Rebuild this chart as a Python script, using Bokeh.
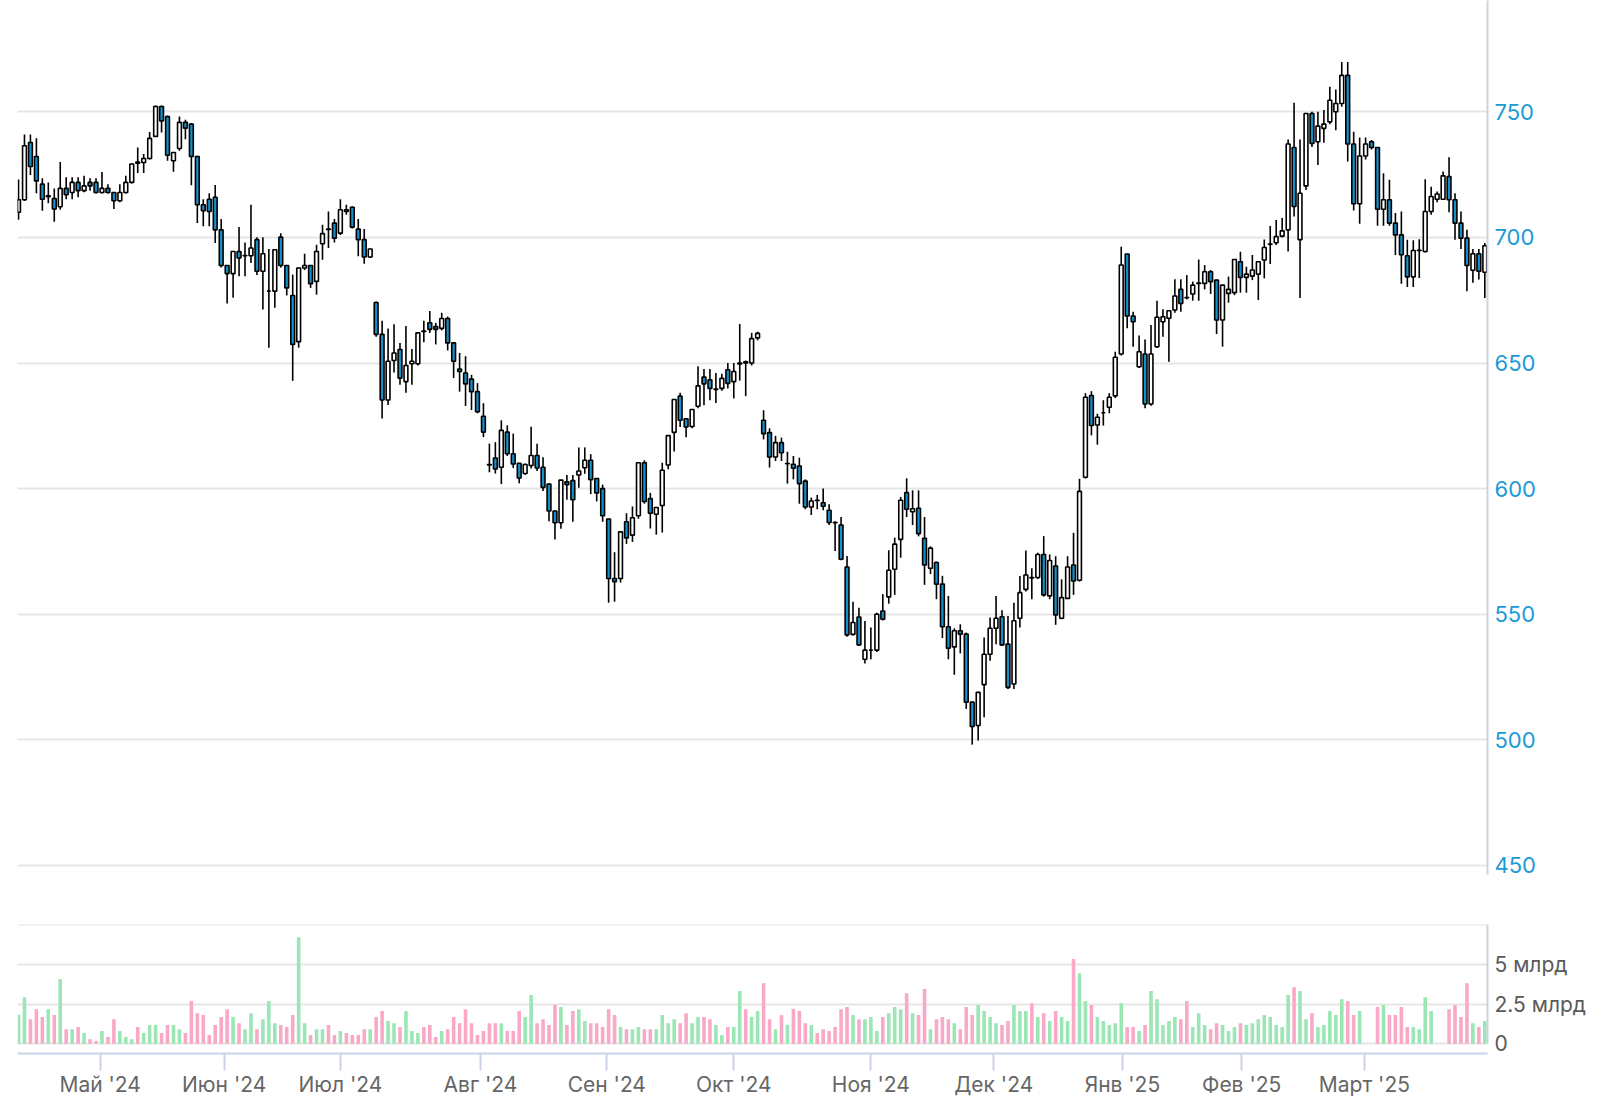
import numpy as np
from bokeh.plotting import figure
from bokeh.layouts import column
from bokeh.models import Range1d, FixedTicker, ColumnDataSource
from bokeh.embed import file_html
from bokeh.resources import INLINE

# ---------------- data ----------------
open_ = [
710, 715, 737.8, 732.2, 721.2, 716.2, 715.5, 712.2, 719.5, 717.9,
721.9, 718.6, 721.9, 721.9, 717.9, 719.5, 717.9, 714.6, 717.9, 721.9,
730, 729.8, 731.4, 740.2, 752.1, 748.1, 730.5, 735.4, 745.8, 745.1,
732.2, 713, 715.2, 716, 703, 688.8, 685.6, 694.4, 692.7, 692.7,
699.1, 686.5, 678.6, 678.6, 700.1, 688.8, 676.9, 658.5, 687.8, 688.8,
682.5, 697.5, 703.3, 705.7, 701.7, 711, 712, 703.3, 699.1, 692.2,
674.1, 661.4, 635.3, 651, 655.4, 642.6, 649.7, 649.7, 662.7, 666,
664.5, 663.8, 667.7, 658, 647.6, 646, 643.6, 638.6, 628.8, 609.6,
612.2, 608.5, 622.5, 613.9, 610.1, 606, 609.2, 613.2, 608.5, 601.8,
591.1, 586.4, 602.7, 603.2, 605.4, 608.3, 611.3, 604, 600, 587.9,
564.2, 564.2, 586.8, 581.5, 589.2, 610.3, 596, 589.8, 593.3, 609.4,
622.4, 636.8, 627.8, 624.7, 632.8, 644.4, 643.3, 639.5, 639.9, 647.3,
642.6, 649.6, 650.5, 650, 660, 627.2, 622.3, 612.6, 618.3, 609.9,
609.7, 609, 603, 592.7, 595.4, 594.4, 591.4, 586.5, 585.5, 568.8,
542, 548.9, 532.1, 535.7, 535.7, 551.3, 556.9, 567.9, 579.8, 598.4,
590.8, 592.2, 580.2, 568.3, 570.6, 562, 545, 537, 543.4, 542.1,
515, 505.7, 522, 534.1, 544.4, 549, 538.1, 522.2, 548.4, 559.9,
564.6, 564.6, 573.8, 557.3, 569.2, 548.4, 556.3, 569.6, 563.5, 604.5,
637, 625.3, 630.2, 632.4, 636.9, 653.6, 693.4, 668.7, 648.5, 653.6,
633.7, 656.5, 666.4, 667.8, 671.1, 679.3, 676.1, 677.5, 681.7, 681.7,
686.3, 683, 667.1, 677.7, 678, 690.3, 684.1, 684.6, 685.4, 691,
697.3, 697.9, 700.5, 703, 735.8, 699.1, 720.5, 749.3, 738.1, 743.4,
746, 750, 753.3, 764.5, 737.2, 713.4, 732.4, 738.1, 735.8, 711.2,
715, 705.7, 701, 692.7, 684.3, 694.8, 694.4, 710.3, 715.2, 715.2,
724.2, 715, 705.7, 699.7, 686.9, 693.5, 686.1,
]
high_ = [
723, 741, 741, 739.5, 723.5, 721.9, 719.5, 730, 723.9, 723.9,
723.9, 724.5, 723.5, 723.5, 726, 721.2, 718, 721.2, 724.5, 729.5,
735.8, 733.2, 742, 752.5, 752.5, 748.5, 734, 748.1, 746.8, 745.5,
732.5, 715.2, 717.6, 720.9, 707.3, 689, 694.5, 704.1, 698, 713,
700.1, 700.1, 695.4, 695.4, 701.7, 689, 685.2, 688, 693.5, 689,
697.1, 705, 710.3, 707.3, 715.2, 713, 712.3, 707.3, 703.3, 695.5,
674.5, 666.8, 663.7, 665.4, 658, 664.7, 655.6, 662.2, 666.8, 670.7,
666, 670, 668.5, 658.2, 654, 652.7, 645.3, 642, 634, 617.9,
618.5, 627.2, 625.2, 621.9, 610.2, 610, 624.6, 617.9, 612.5, 602,
591.2, 603.5, 605.4, 605.4, 616.4, 616.4, 613.7, 604.1, 601.6, 588,
574.7, 583, 590.2, 592.9, 610.5, 611.3, 598.3, 592.6, 610.3, 621.2,
635.6, 638.2, 627.9, 631.6, 648.7, 647.6, 647.6, 646, 645.7, 650,
650, 665.5, 651, 662, 662.5, 631.2, 624, 621, 620.3, 614.7,
613, 612.3, 603.7, 596.4, 597.5, 600, 593.8, 587, 588.7, 573.2,
555, 552.6, 547.3, 544.7, 550.6, 558, 575.5, 580.5, 596.7, 604.1,
599.3, 599.3, 588.7, 577, 571, 565.3, 557.3, 544.4, 546, 542.7,
515.2, 519, 540.7, 548.7, 557.3, 551.6, 549.3, 554.6, 565.2, 575.4,
568.3, 574.5, 581.1, 573.8, 573.1, 563.9, 573.1, 582.4, 603.9, 638,
638.8, 629.8, 635.2, 638, 654.5, 696.3, 693.5, 670.4, 661, 659.4,
665.1, 674.8, 671.4, 671, 683.3, 683.3, 685, 682.4, 691.2, 689,
687, 683.1, 681.1, 684.4, 691.3, 694.3, 688.3, 693, 690.4, 699.2,
704.5, 706.9, 707.7, 739, 753.6, 739, 749.5, 750, 750, 750.7,
760, 758.9, 769.8, 769.8, 742.1, 739.8, 739.8, 738.8, 736, 725.5,
722.9, 709.7, 710.3, 699.1, 698.9, 699.3, 723.1, 720.2, 718.3, 726.2,
731.9, 717.6, 710.3, 703, 695.4, 695.4, 697.8,
]
low_ = [
707, 714.5, 724.8, 717.6, 710.6, 713.6, 706.2, 711, 715.2, 715.2,
716, 718, 718.6, 717.5, 717.5, 717.5, 711.3, 714, 717.5, 721.5,
725.6, 725.6, 731, 740, 741.8, 730.5, 726.1, 734.5, 739.1, 720.8,
705.7, 704.4, 704.4, 697.8, 688, 673.7, 676, 684.5, 684.5, 689.8,
685, 671.3, 656.1, 672, 688, 676.9, 642.9, 656.1, 687, 679.9,
677.2, 691.1, 695.8, 698, 701, 709, 703.5, 692.5, 689.5, 691.8,
660.5, 627.9, 633.3, 646.2, 641.3, 638.2, 641.3, 649, 658.3, 662,
657.4, 663, 655, 644, 638.6, 632.9, 631.3, 630, 620.5, 606.5,
606, 601.8, 613, 608.2, 602.1, 605.5, 608, 607, 599.1, 587,
579.7, 584, 595.6, 586.8, 600.3, 605.9, 597.8, 594.9, 586.8, 554.6,
555, 562.6, 578, 578.8, 588, 594, 584.1, 581.7, 582.5, 607.7,
614.8, 624.5, 620.4, 624, 632, 633.2, 635.2, 634.1, 639, 639.9,
635.9, 643, 636.8, 649, 659, 619.6, 608.4, 611, 611, 602,
603.7, 594, 591.8, 589.5, 591.8, 591.4, 585.5, 575.2, 571.5, 541,
541.5, 537.5, 530.4, 532.1, 535, 547.5, 554.2, 557.7, 572.5, 588.7,
585.5, 581, 561.7, 566, 556, 540.5, 532.1, 525.9, 534.4, 512.3,
498.1, 499.7, 509, 531.5, 538.1, 537.5, 520.2, 520.2, 544.7, 559,
556, 564, 557, 556, 545.8, 548, 556, 557.7, 563, 604,
621.2, 617.5, 625.1, 630, 636, 653, 663.8, 656.5, 648, 632,
633, 656, 660.5, 650.5, 670, 670.4, 675.3, 674.8, 674.8, 679.3,
677.5, 661.5, 656.5, 674, 677, 678, 678, 683, 675.1, 683.7,
689.4, 697, 700, 694.4, 708.3, 675.9, 718.9, 736, 728.8, 737.7,
745, 742.7, 752, 730.2, 710.7, 705.4, 731, 735, 704.6, 704.6,
704.6, 693, 681.6, 680.3, 680.3, 683.8, 694, 709, 714, 715,
710, 699.1, 695.4, 678.6, 681.9, 683.2, 675.9,
]
close_ = [
715, 736.5, 728.2, 722.5, 715.2, 716.6, 711.3, 719.5, 717, 721.9,
718.6, 720.5, 720.5, 717.9, 719.5, 717.9, 714.6, 717.9, 721.9, 729.2,
729.5, 731.4, 739.4, 752.1, 746.4, 732.7, 733.8, 745.8, 743.5, 732.2,
713, 710.6, 710.3, 703, 688.8, 685.6, 694.4, 691.8, 692.8, 695.8,
686.5, 693.5, 678.6, 695.1, 688.8, 679.9, 657.4, 687.8, 688.8, 681.6,
694.4, 701.5, 703.2, 699.7, 711, 710.3, 704.1, 699.1, 692.2, 695.4,
661.4, 635.3, 650.7, 654, 644, 649, 650.7, 662, 662.6, 663.4,
663.4, 667.7, 658, 650.7, 646.6, 641.7, 638.6, 630.6, 622.5, 609.4,
607.8, 623.2, 613.9, 609.8, 604.2, 609.6, 613.2, 608.2, 600.5, 591.1,
586.4, 603.4, 601.6, 595.6, 607, 611.3, 603.6, 598.3, 589.2, 564.2,
563, 582.8, 580.4, 588.4, 610.3, 594.9, 590.2, 592.5, 607.3, 621.1,
635.5, 627.2, 624.5, 631.5, 640.9, 641.7, 639.9, 639.6, 643.9, 641.9,
646.6, 650, 650, 659.7, 661.8, 621.9, 612.6, 618.3, 614.3, 610,
608.1, 602, 592.7, 595.1, 595.3, 593, 586.5, 586.4, 571.9, 541.8,
546.7, 537.8, 535.7, 535.7, 550, 548, 567.5, 577.9, 595.4, 591.8,
592, 582.1, 569.6, 576.3, 562, 545, 536.5, 543.4, 542.1, 515,
505.3, 518.9, 534.1, 544.4, 548.4, 537.8, 520.9, 547.4, 558.6, 565.6,
564.4, 573.8, 557.7, 571.4, 549.7, 556.6, 568.8, 563.2, 598.9, 636.4,
625.1, 628.4, 630.2, 636.4, 652.3, 689, 668.7, 666.4, 654.5, 633.7,
653.6, 668.2, 668.4, 670.8, 676.7, 673.7, 676, 681, 681.8, 686.3,
682.4, 667.1, 681, 679.3, 691.2, 684.1, 685.4, 687, 690.3, 696,
697.4, 700.3, 702.6, 737.2, 712.3, 717.6, 749.3, 737.4, 744.3, 745.1,
754.6, 753.3, 764.5, 737.2, 713.4, 732.4, 737.2, 735.8, 711.2, 715,
705.7, 701, 693.1, 684.3, 694.8, 694.9, 710.3, 716.3, 717.3, 724.5,
715, 705.7, 699.7, 688.8, 693.5, 686.5, 696.7,
]
nan = float("nan")
volume_bn = [
1.83, 2.94, 1.55, 2.18, 1.68, 2.18, 1.81, 4.08, 0.92, 0.92,
1.05, 0.67, 0.29, 0.17, 0.80, 0.42, 1.55, 0.80, 0.42, 0.29,
1.05, 0.67, 1.18, 1.18, 0.67, 1.18, 1.18, 0.92, 0.67, 2.69,
1.93, 1.81, 0.55, 1.18, 1.68, 2.18, 1.68, 1.30, 0.92, 1.93,
0.92, 1.55, 2.69, 1.30, 1.18, 1.05, 1.81, 6.72, 1.30, 0.55,
0.92, 0.92, 1.18, 0.55, 0.80, 0.67, 0.55, 0.55, 0.92, 0.92,
1.68, 2.06, 1.43, 1.30, 1.05, 2.06, 0.80, 0.67, 1.05, 1.18,
0.42, 0.80, 0.92, 1.68, 1.30, 2.18, 1.30, 0.55, 0.80, 1.30,
1.30, 1.30, 0.80, 0.80, 2.06, 1.68, 3.07, 1.30, 1.55, 1.18,
2.44, 2.31, 1.18, 2.06, 2.18, 1.43, 1.30, 1.30, 1.05, 2.18,
1.81, 1.05, 0.92, 0.92, 1.05, 0.92, 0.92, 0.92, 1.81, 1.30,
1.55, 1.30, 1.93, 1.30, 1.68, 1.68, 1.55, 1.18, 0.55, 1.05,
1.05, 3.32, 2.18, 1.68, 2.06, 3.82, 1.55, 0.92, 1.80, 1.20,
2.20, 2.06, 1.30, 1.18, 0.67, 0.92, 0.80, 1.05, 2.18, 2.31,
1.81, 1.55, 1.55, 1.68, 0.80, 1.68, 1.93, 2.31, 2.18, 3.19,
1.93, 1.81, 3.45, 0.92, 1.55, 1.68, 1.55, 1.30, 0.92, 2.31,
1.81, 2.44, 2.06, 1.68, 1.30, 1.18, 1.43, 2.44, 2.06, 2.06,
2.56, 1.68, 1.93, 1.43, 2.06, 1.68, 1.43, 5.34, 4.45, 2.69,
2.44, 1.68, 1.43, 1.18, 1.30, 2.56, 1.05, 1.05, 0.80, 1.18,
3.32, 2.81, 1.18, 1.43, 1.68, 1.55, 2.69, 1.05, 1.93, 1.18,
0.92, 1.30, 1.18, 0.80, 1.05, 1.30, 1.18, 1.30, 1.55, 1.81,
1.68, 1.18, 1.05, 3.07, 3.57, 3.32, 1.55, 1.93, 1.05, 1.18,
2.06, 1.81, 2.81, 2.69, 1.81, 2.06, nan, nan, 2.31, 2.44,
1.81, 1.81, 2.31, 1.05, 1.05, 0.92, 2.94, 2.06, nan, nan,
2.18, 2.44, 1.68, 3.82, 1.30, 1.05, 1.43,
]
month_labels = ["Май '24", "Июн '24", "Июл '24", "Авг '24", "Сен '24", "Окт '24",
                "Ноя '24", "Дек '24", "Янв '25", "Фев '25", "Март '25"]
month_tick_idx = [13.7, 34.5, 54.0, 77.5, 98.7, 120.0, 143.0, 163.6, 185.2, 205.2, 225.8]
price_ticks = [450, 500, 550, 600, 650, 700, 750]
vol_ticks = [0, 2.5, 5, 7.5]
vol_tick_labels = ["0", "2.5 млрд", "5 млрд", ""]

# ---------------- derived ----------------
o = np.array(open_, float)
h = np.array(high_, float)
l = np.array(low_, float)
c = np.array(close_, float)
vol = np.array(volume_bn, float)
idx = np.arange(len(o))
up = c >= o

UP_FILL = "#ffffff"
DOWN_FILL = "#168fca"
VOL_UP = "#9ae6b4"
VOL_DOWN = "#f9a9c6"
GRID = "#e6e6e6"
AXIS = "#c9d3e8"
FONT = "Inter"

src = ColumnDataSource(dict(
    x=idx, top=np.maximum(o, c), bottom=np.minimum(o, c),
    hi=np.maximum(h, np.maximum(o, c)), lo=np.minimum(l, np.minimum(o, c)),
    fill=[UP_FILL if u else DOWN_FILL for u in up],
    vol=vol, vcol=[VOL_UP if u else VOL_DOWN for u in up],
))

xr = Range1d(-0.17, 246.45)
FRAME_W = 1470
LEFT = 17

# ---------------- price panel ----------------
p = figure(frame_width=FRAME_W, frame_height=874, x_range=xr,
           y_range=Range1d(446.4, 794.3), output_backend="svg",
           toolbar_location=None, x_axis_location=None, y_axis_location="right",
           min_border_left=LEFT, min_border_right=100, min_border_top=0,
           min_border_bottom=14)
p.outline_line_color = None
p.background_fill_color = "white"
p.xgrid.visible = False
p.ygrid.ticker = FixedTicker(ticks=price_ticks)
p.ygrid.grid_line_color = GRID
p.ygrid.grid_line_width = 2
ya = p.yaxis[0]
ya.ticker = FixedTicker(ticks=price_ticks)
ya.axis_line_color = AXIS
ya.axis_line_width = 2
ya.major_tick_line_color = None
ya.minor_tick_line_color = None
ya.major_label_standoff = 1
ya.major_label_text_font = FONT
ya.major_label_text_font_size = "22px"
ya.major_label_text_color = "#1b9ad6"

p.segment(x0="x", y0="lo", x1="x", y1="hi", source=src, line_color="black",
          line_width=1.6)
p.vbar(x="x", width=0.64, top="top", bottom="bottom", source=src,
       fill_color="fill", line_color="black", line_width=1.6)

# ---------------- volume panel ----------------
v = figure(frame_width=FRAME_W, height=211, x_range=xr,
           y_range=Range1d(-0.615, 7.52), output_backend="svg",
           toolbar_location=None, y_axis_location="right",
           min_border_left=LEFT, min_border_right=100, min_border_top=36,
           min_border_bottom=0)
v.outline_line_color = None
v.xgrid.visible = False
v.ygrid.ticker = FixedTicker(ticks=vol_ticks)
v.ygrid.grid_line_color = GRID
v.ygrid.grid_line_width = 2
vy = v.yaxis[0]
vy.ticker = FixedTicker(ticks=vol_ticks)
vy.major_label_overrides = dict(zip(vol_ticks, vol_tick_labels))
vy.bounds = (0, 7.5)
vy.axis_line_color = AXIS
vy.axis_line_width = 2
vy.major_tick_line_color = None
vy.minor_tick_line_color = None
vy.major_label_standoff = 1
vy.major_label_text_font = FONT
vy.major_label_text_font_size = "21px"
vy.major_label_text_color = "#5a5a5a"

vx = v.xaxis[0]
vx.ticker = FixedTicker(ticks=month_tick_idx)
vx.major_label_overrides = dict(zip(month_tick_idx, month_labels))
vx.axis_line_color = AXIS
vx.axis_line_width = 2
vx.major_tick_line_color = AXIS
vx.major_tick_line_width = 2
vx.major_tick_in = 0
vx.major_tick_out = 17
vx.minor_tick_line_color = None
vx.major_label_standoff = 1
vx.major_label_text_font = FONT
vx.major_label_text_font_size = "21px"
vx.major_label_text_color = "#666666"

v.vbar(x="x", width=0.6, top="vol", bottom=0, source=src,
       fill_color="vcol", line_color=None)

layout = column(p, v, spacing=0)
open("out.html", "w").write(file_html(layout, INLINE))
